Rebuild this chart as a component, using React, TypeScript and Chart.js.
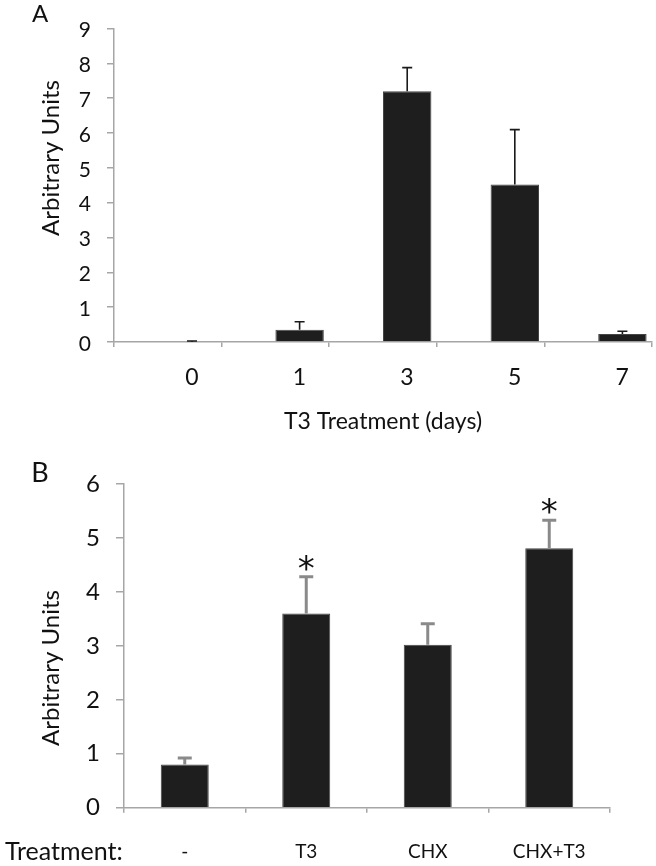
import React, { useEffect, useRef } from "react";
import { Chart, registerables } from "chart.js";

Chart.register(...registerables);

// ---------- Panel A data ----------
const aCategories = ["0", "1", "3", "5", "7"];
const aValues = [0, 0.35, 7.2, 4.52, 0.23];
const aErrors = [0.03, 0.23, 0.68, 1.58, 0.08];
const aYMax = 9;
const aXTitle = "T3 Treatment (days)";

// ---------- Panel B data ----------
const bCategories = ["-", "T3", "CHX", "CHX+T3"];
const bValues = [0.8, 3.6, 3.02, 4.81];
const bErrors = [0.12, 0.68, 0.39, 0.52];
const bSignificant = [false, true, false, true];
const bYMax = 6;

const yTitle = "Arbitrary Units";
const FONT = "Lato, 'Open Sans', sans-serif";
const TEXT = "#111111";
const AXIS = "#a6a6a6";
const BAR = "#1e1e1e";

function errorBarPlugin(
  id: string,
  datasetIndex: number,
  values: number[],
  errors: number[],
  color: string,
  width: number,
  cap: number,
  stars?: boolean[]
) {
  return {
    id,
    afterDatasetsDraw(chart: any) {
      const meta = chart.getDatasetMeta(datasetIndex);
      const y = chart.scales.y;
      const ctx = chart.ctx;
      ctx.save();
      ctx.strokeStyle = color;
      ctx.lineWidth = width;
      meta.data.forEach((bar: any, i: number) => {
        const top = y.getPixelForValue(values[i] + errors[i]);
        const base = y.getPixelForValue(values[i]);
        ctx.beginPath();
        ctx.moveTo(bar.x, base);
        ctx.lineTo(bar.x, top);
        ctx.moveTo(bar.x - cap / 2, top);
        ctx.lineTo(bar.x + cap / 2, top);
        ctx.stroke();
        if (stars && stars[i]) {
          ctx.fillStyle = TEXT;
          ctx.font = `34px 'DejaVu Sans', sans-serif`;
          ctx.textAlign = "center";
          ctx.textBaseline = "alphabetic";
          ctx.fillText("*", bar.x, top + 3);
        }
      });
      ctx.restore();
    },
  };
}

function textPlugin(
  id: string,
  items: { text: string; x: number; y: number; size: number; rotate?: boolean; align?: CanvasTextAlign }[]
) {
  return {
    id,
    afterDraw(chart: any) {
      const ctx = chart.ctx;
      items.forEach((it) => {
        ctx.save();
        ctx.fillStyle = TEXT;
        ctx.font = `${it.size}px ${FONT}`;
        ctx.textAlign = it.align || "center";
        ctx.textBaseline = "middle";
        ctx.translate(it.x, it.y);
        if (it.rotate) ctx.rotate(-Math.PI / 2);
        ctx.fillText(it.text, 0, 0);
        ctx.restore();
      });
    },
  };
}

function makeConfigA(): any {
  return {
    type: "bar",
    data: {
      labels: aCategories,
      datasets: [
        { data: aCategories.map(() => null), backgroundColor: "rgba(0,0,0,0)" },
        { data: aValues, backgroundColor: BAR, borderColor: "#454545", borderWidth: 1 },
      ],
    },
    options: {
      responsive: false,
      animation: false,
      layout: { padding: { left: 0, right: 4, top: 15, bottom: 0 } },
      plugins: { legend: { display: false }, tooltip: { enabled: false } },
      datasets: { bar: { categoryPercentage: 0.9, barPercentage: 1 } },
      scales: {
        x: {
          grid: { drawOnChartArea: false, color: AXIS, lineWidth: 1.5, tickLength: 5, offset: true },
          border: { color: AXIS, width: 1.5 },
          ticks: { color: TEXT, font: { family: FONT, size: 23 }, padding: 17, labelOffset: 24 },
          title: {
            display: true,
            text: aXTitle,
            color: TEXT,
            font: { family: FONT, size: 23 },
            padding: { top: 0, bottom: 10 },
          },
          afterFit: (s: any) => {
            s.height = 103;
          },
        },
        y: {
          min: 0,
          max: aYMax,
          ticks: { stepSize: 1, color: TEXT, font: { family: FONT, size: 21 }, padding: 16, labelOffset: 2 },
          grid: { drawOnChartArea: false, color: AXIS, lineWidth: 1.5, tickLength: 7 },
          border: { color: AXIS, width: 1.5 },
          afterFit: (s: any) => {
            s.width = 114;
          },
        },
      },
    },
    plugins: [
      errorBarPlugin("errA", 1, aValues, aErrors, "#1a1a1a", 1.6, 10),
      textPlugin("txtA", [
        { text: "A", x: 40, y: 14, size: 24 },
        { text: yTitle, x: 51, y: 158, size: 24, rotate: true },
      ]),
    ],
  };
}

function makeConfigB(): any {
  return {
    type: "bar",
    data: {
      labels: bCategories,
      datasets: [{ data: bValues, backgroundColor: BAR, borderColor: "#454545", borderWidth: 1 }],
    },
    options: {
      responsive: false,
      animation: false,
      layout: { padding: { left: 0, right: 46, top: 39, bottom: 0 } },
      plugins: { legend: { display: false }, tooltip: { enabled: false } },
      datasets: { bar: { categoryPercentage: 1, barPercentage: 0.395 } },
      scales: {
        x: {
          grid: { drawOnChartArea: false, color: AXIS, lineWidth: 1.5, tickLength: 5, offset: true },
          border: { color: AXIS, width: 1.5 },
          ticks: { color: TEXT, font: { family: FONT, size: 19 }, padding: 28 },
          afterFit: (s: any) => {
            s.height = 58.3;
          },
        },
        y: {
          min: 0,
          max: bYMax,
          ticks: { stepSize: 1, color: TEXT, font: { family: FONT, size: 24 }, padding: 16 },
          grid: { drawOnChartArea: false, color: AXIS, lineWidth: 1.5, tickLength: 8 },
          border: { color: AXIS, width: 1.5 },
          afterFit: (s: any) => {
            s.width = 124;
          },
        },
      },
    },
    plugins: [
      errorBarPlugin("errB", 0, bValues, bErrors, "#8a8a8a", 3, 14, bSignificant),
      textPlugin("txtB", [
        { text: "B", x: 40, y: 28, size: 27 },
        { text: yTitle, x: 51, y: 223, size: 24, rotate: true },
        { text: "Treatment:", x: 5, y: 407, size: 25, align: "left" },
      ]),
    ],
  };
}

function ChartCanvas({ make, width, height, top }: { make: () => any; width: number; height: number; top: number }) {
  const ref = useRef<HTMLCanvasElement | null>(null);
  useEffect(() => {
    if (!ref.current) return;
    const chart = new Chart(ref.current, make());
    return () => chart.destroy();
  }, [make]);
  return (
    <canvas
      ref={ref}
      width={width}
      height={height}
      style={{ position: "absolute", left: 0, top, width, height, display: "block" }}
    />
  );
}

export default function App() {
  return (
    <div style={{ position: "absolute", left: 0, top: 0, width: 656, height: 866, background: "#fff" }}>
      <ChartCanvas make={makeConfigA} width={656} height={445} top={0} />
      <ChartCanvas make={makeConfigB} width={656} height={421} top={445} />
    </div>
  );
}
